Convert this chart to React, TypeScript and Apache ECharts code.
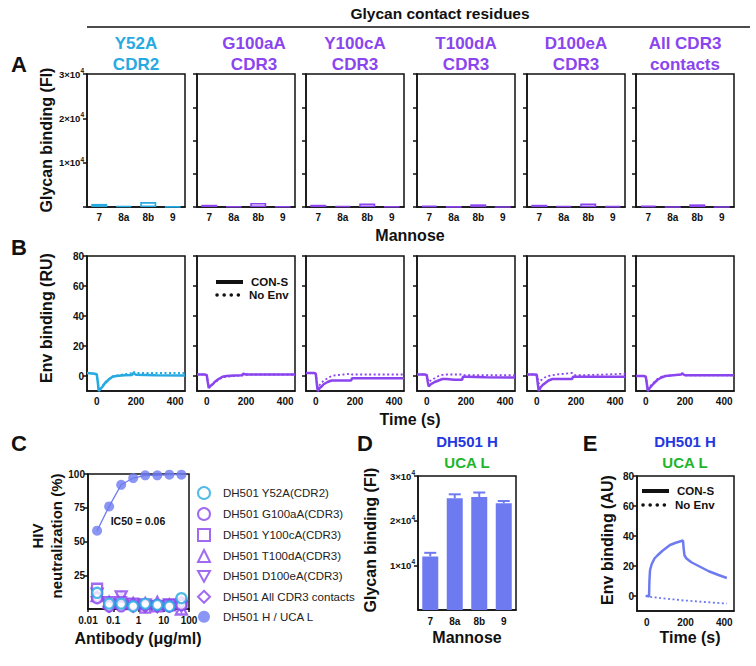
import React, { useEffect, useRef } from 'react';
import * as echarts from 'echarts';

// ---------------- data ----------------
const mannoseCats = ['7', '8a', '8b', '9'];
const mutantTitles = [
  ['Y52A', 'CDR2'],
  ['G100aA', 'CDR3'],
  ['Y100cA', 'CDR3'],
  ['T100dA', 'CDR3'],
  ['D100eA', 'CDR3'],
  ['All CDR3', 'contacts'],
];

// Panel A glycan binding (FI)
const glycanY52A = [700, 200, 1100, 50];
const glycanG100aA = [500, 100, 900, 100];
const glycanY100cA = [500, 200, 800, 100];
const glycanT100dA = [300, 50, 600, 0];
const glycanD100eA = [500, 200, 800, 150];
const glycanAllCDR3 = [300, 0, 600, 0];

// Panel B Env binding (RU)
const bTime = [-50, -10, 0, 5, 10, 20, 30, 40, 60, 80, 100, 140, 180, 185, 200, 300, 450];
const envY52A_cons = [2, 1.5, 1, -4, -10, -8.5, -7, -5, -2.5, -0.5, 0, 0.5, 0.7, 2, 0.8, 0.5, 0.4];
const envY52A_noEnv = [2, 1.5, 1, -4, -9.5, -8, -6.5, -4.5, -2, -0.3, 0.3, 1.2, 2, 3, 2, 2, 2];
const envG100aA_cons = [1, 1, 0.5, -4, -8, -6.5, -5.5, -4, -2, -0.5, 0, 0.3, 0.5, 1.5, 1, 1, 1];
const envG100aA_noEnv = [1, 1, 0.5, -4, -7.5, -6.5, -5.5, -4.5, -2.5, -1, -0.5, 0, 0.3, 1, 1, 1, 1];
const envY100cA_cons = [2, 2, 1.5, -5, -10, -8, -7, -5.5, -4, -3, -3, -3, -3, -1.5, -1.5, -1.5, -1.5];
const envY100cA_noEnv = [2, 2, 1.5, -3, -8, -6, -4.5, -3, -1.5, 0, 0.5, 1, 1.5, 1, 1, 1, 1];
const envT100dA_cons = [1, 1, 0.5, -4, -7, -5.5, -4.8, -4, -3, -2, -2, -2.5, -2.5, -0.5, -0.5, -0.8, -1];
const envT100dA_noEnv = [1, 1, 0.5, -2, -4, -3, -2.2, -1.5, 0, 0.8, 1, 1, 1, 0.5, 0.5, 0.5, 0.5];
const envD100eA_cons = [1, 1, 0.5, -5, -10, -7.5, -6, -5, -3, -2, -2, -2, -2, -0.5, -0.5, -0.5, -0.5];
const envD100eA_noEnv = [1, 1, 1, -2, -5, -3, -2, -1, 0, 0.5, 1, 1.5, 2, 1, 0.5, 0.8, 1.5];
const envAllCDR3_cons = [0, 0, -0.5, -5, -10, -8, -6.5, -5, -2.5, -1, 0, 0.5, 1, 1.5, 0.5, 0.5, 0.5];
const envAllCDR3_noEnv = [0, 0, -0.5, -4, -9, -7, -5.8, -4.5, -2, -0.5, 0, 0.5, 1, 2, 0.5, 0.5, 0.5];

// Panel C neutralization
const antibodyConc = [0.0229, 0.0686, 0.206, 0.617, 1.85, 5.56, 16.7, 50];
const concTickLabels = ['0.01', '0.1', '1', '10', '100'];
const neutY52A = [12, 4, 4, 2, 4, 3, 2, 8];
const neutG100aA = [8, 2, 2, 3, 3, 3, 2, 3];
const neutY100cA = [15, 5, 5, 4, 1, 2, 3, 4];
const neutT100dA = [10, 5, 8, 4, 4, 5, 3, 0];
const neutD100eA = [11, 3, 9, 3, 3, 2, 3, 2];
const neutAllCDR3 = [9, 2, 3, 2, 2, 2, 2, 5];
const neutUCA = [58, 76, 92, 97, 99, 99, 99.5, 99.5];

// Panel D glycan binding of DH501 H / UCA L
const ucaGlycan = [12000, 25000, 25300, 23900];
const ucaGlycanErr = [800, 900, 1000, 500];

// Panel E Env binding (AU)
const eConsTime = [-5, 8, 12, 14, 17, 25, 40, 55, 80, 120, 150, 187, 189, 191, 195, 205, 230, 275, 320, 370, 413];
const eCons = [0, 0, -0.5, 10, 17, 21, 25, 27, 30, 34, 35.5, 37, 37, 31, 27, 25, 22.5, 19.5, 16.5, 14, 12];
const eNoEnvTime = [-5, 10, 50, 100, 150, 190, 200, 250, 300, 350, 413];
const eNoEnv = [0, -0.5, -1, -1.8, -2.4, -3, -3, -3.5, -4, -4.5, -5];

// ---------------- styling ----------------
const FONT = 'Arial, "Liberation Sans", Helvetica, sans-serif';
const INK = '#111111';
const CYAN = '#27a9e1';
const PURPLE = '#8a45ee';
const BLUE = '#6e7bf0';
const TITLE_BLUE = '#2437e0';
const TITLE_GREEN = '#1fb52a';

const rowLefts = [87, 197, 306, 417, 527, 636];
const rowWidth = 98;
const panelColors = [CYAN, PURPLE, PURPLE, PURPLE, PURPLE, PURPLE];

function buildOption() {
  const glycanSets = [glycanY52A, glycanG100aA, glycanY100cA, glycanT100dA, glycanD100eA, glycanAllCDR3];
  const envSets = [
    [envY52A_cons, envY52A_noEnv],
    [envG100aA_cons, envG100aA_noEnv],
    [envY100cA_cons, envY100cA_noEnv],
    [envT100dA_cons, envT100dA_noEnv],
    [envD100eA_cons, envD100eA_noEnv],
    [envAllCDR3_cons, envAllCDR3_noEnv],
  ];
  const axisLineStyle = { color: INK, width: 1.5 };
  const aLine = { show: true, onZero: false, lineStyle: axisLineStyle };
  const frame = { show: true, borderColor: INK, borderWidth: 1.5, backgroundColor: 'transparent' };
  const tickLabel = { fontFamily: FONT, fontWeight: 'bold', fontSize: 10, color: INK };
  const sci = (v: number) => (v === 0 ? '' : `{b|${v / 10000}×10}{s|4}`);
  const sciRich = {
    b: { fontFamily: FONT, fontWeight: 'bold', fontSize: 9.5, color: INK },
    s: { fontFamily: FONT, fontWeight: 'bold', fontSize: 6.5, color: INK, padding: [0, 0, 7, 0] },
  };

  const grid: any[] = [];
  const xAxis: any[] = [];
  const yAxis: any[] = [];
  const series: any[] = [];

  // Row A
  rowLefts.forEach((left, i) => {
    grid.push({ left, top: 74, width: rowWidth, height: 133, ...frame });
    xAxis.push({
      gridIndex: i, type: 'category', data: mannoseCats,
      axisLine: aLine, axisTick: { show: false },
      axisLabel: { ...tickLabel, margin: 5 },
    });
    yAxis.push({
      gridIndex: i, type: 'value', min: 0, max: 30000, interval: i === 0 ? 10000 : 7500,
      axisLine: aLine,
      axisTick: { show: true, length: 4, lineStyle: axisLineStyle },
      axisLabel: { show: i === 0, ...tickLabel, margin: 3, formatter: sci, rich: sciRich },
      splitLine: { show: false },
    });
    series.push({
      type: 'bar', xAxisIndex: i, yAxisIndex: i, data: glycanSets[i], barWidth: 16,
      itemStyle: { color: '#ffffff', borderColor: panelColors[i], borderWidth: 1.6 },
    });
  });

  // Row B
  rowLefts.forEach((left, i) => {
    const gi = 6 + i;
    grid.push({ left, top: 256, width: rowWidth, height: 135, ...frame });
    xAxis.push({
      gridIndex: gi, type: 'value', min: -50, max: 450,
      axisLine: aLine, axisTick: { show: false },
      axisLabel: { ...tickLabel, margin: 5, customValues: [0, 200, 400] },
      splitLine: { show: false },
    });
    yAxis.push({
      gridIndex: gi, type: 'value', min: -10, max: 80,
      axisLine: aLine,
      axisTick: { show: true, length: 4, lineStyle: axisLineStyle, customValues: [0, 20, 40, 60, 80] },
      axisLabel: { show: i === 0, ...tickLabel, margin: 3, customValues: [0, 20, 40, 60, 80] },
      splitLine: { show: false },
    });
    const [cons, noEnv] = envSets[i];
    series.push({
      type: 'line', xAxisIndex: gi, yAxisIndex: gi, symbol: 'none',
      data: bTime.map((t, k) => [t, noEnv[k]]),
      lineStyle: { color: panelColors[i], width: 1.8, type: [2, 2.5] },
    });
    series.push({
      type: 'line', xAxisIndex: gi, yAxisIndex: gi, symbol: 'none',
      data: bTime.map((t, k) => [t, cons[k]]),
      lineStyle: { color: panelColors[i], width: 2.5 },
    });
  });

  // Panel C
  grid.push({ left: 88, top: 474, width: 101, height: 135, ...frame });
  xAxis.push({
    gridIndex: 12, type: 'log', logBase: 10, min: 0.01, max: 100,
    axisLine: aLine, axisTick: { show: true, length: 3, lineStyle: axisLineStyle },
    axisLabel: {
      ...tickLabel, margin: 6,
      formatter: (v: number) => concTickLabels[Math.round(Math.log10(v)) + 2] ?? '',
    },
    splitLine: { show: false },
  });
  yAxis.push({
    gridIndex: 12, type: 'value', min: 0, max: 100,
    axisLine: aLine,
    axisTick: { show: true, length: 4, lineStyle: axisLineStyle, customValues: [25, 50, 75, 100] },
    axisLabel: { ...tickLabel, margin: 3, customValues: [25, 50, 75, 100] },
    splitLine: { show: false },
  });
  const hollow = (name: string, vals: number[], color: string, symbol: string, size: number) => ({
    type: 'scatter', name, xAxisIndex: 12, yAxisIndex: 12, symbol, symbolSize: size,
    data: antibodyConc.map((c, k) => [c, vals[k]]),
    itemStyle: { color: '#ffffff', borderColor: color, borderWidth: 2.3 },
  });
  const invTri = 'path://M0,0L10,0L5,9Z';
  const cNames = [
    'DH501 Y52A(CDR2)',
    'DH501 G100aA(CDR3)',
    'DH501 Y100cA(CDR3)',
    'DH501 T100dA(CDR3)',
    'DH501 D100eA(CDR3)',
    'DH501 All CDR3 contacts',
    'DH501 H / UCA L',
  ];
  series.push(hollow(cNames[3], neutT100dA, PURPLE, 'triangle', 11));
  series.push(hollow(cNames[4], neutD100eA, PURPLE, invTri, 11));
  series.push(hollow(cNames[2], neutY100cA, PURPLE, 'rect', 10));
  series.push(hollow(cNames[5], neutAllCDR3, PURPLE, 'diamond', 11));
  series.push(hollow(cNames[1], neutG100aA, PURPLE, 'circle', 10));
  series.push(hollow(cNames[0], neutY52A, CYAN, 'circle', 10));
  series.push({
    type: 'line', name: 'uca-fit', xAxisIndex: 12, yAxisIndex: 12, symbol: 'none',
    data: antibodyConc.map((c, k) => [c, neutUCA[k]]),
    lineStyle: { color: BLUE, width: 1.3 },
  });
  series.push({
    type: 'scatter', name: cNames[6], xAxisIndex: 12, yAxisIndex: 12, symbol: 'circle', symbolSize: 10,
    data: antibodyConc.map((c, k) => [c, neutUCA[k]]),
    itemStyle: { color: BLUE },
  });

  // Panel D
  grid.push({ left: 418, top: 476, width: 98, height: 134, ...frame });
  xAxis.push({
    gridIndex: 13, type: 'category', data: mannoseCats,
    axisLine: aLine, axisTick: { show: false },
    axisLabel: { ...tickLabel, margin: 6 },
  });
  yAxis.push({
    gridIndex: 13, type: 'value', min: 0, max: 30000,
    axisLine: aLine,
    axisTick: { show: true, length: 4, lineStyle: axisLineStyle, customValues: [10000, 20000, 30000] },
    axisLabel: { ...tickLabel, margin: 3, customValues: [10000, 20000, 30000], formatter: sci, rich: sciRich },
    splitLine: { show: false },
  });
  series.push({
    type: 'custom', xAxisIndex: 13, yAxisIndex: 13,
    data: ucaGlycan.map((v, k) => [k, v, v + ucaGlycanErr[k]]),
    encode: { x: 0, y: [1, 2] },
    renderItem: (_p: any, api: any) => {
      const base = api.coord([api.value(0), api.value(1)]);
      const top = api.coord([api.value(0), api.value(2)]);
      return {
        type: 'group',
        children: [
          { type: 'line', shape: { x1: top[0], y1: base[1], x2: top[0], y2: top[1] }, style: { stroke: BLUE, lineWidth: 2 } },
          { type: 'line', shape: { x1: top[0] - 6, y1: top[1], x2: top[0] + 6, y2: top[1] }, style: { stroke: BLUE, lineWidth: 2 } },
        ],
      };
    },
  });
  series.push({
    type: 'bar', xAxisIndex: 13, yAxisIndex: 13, data: ucaGlycan, barWidth: 16,
    itemStyle: { color: BLUE },
  });

  // Panel E
  grid.push({ left: 637, top: 476, width: 97, height: 135, ...frame });
  xAxis.push({
    gridIndex: 14, type: 'value', min: -50, max: 450,
    axisLine: aLine, axisTick: { show: false },
    axisLabel: { ...tickLabel, margin: 6, customValues: [0, 200, 400] },
    splitLine: { show: false },
  });
  yAxis.push({
    gridIndex: 14, type: 'value', min: -10, max: 80,
    axisLine: aLine,
    axisTick: { show: true, length: 4, lineStyle: axisLineStyle, customValues: [0, 20, 40, 60, 80] },
    axisLabel: { ...tickLabel, margin: 3, customValues: [0, 20, 40, 60, 80] },
    splitLine: { show: false },
  });
  series.push({
    type: 'line', xAxisIndex: 14, yAxisIndex: 14, symbol: 'none',
    data: eNoEnvTime.map((t, k) => [t, eNoEnv[k]]),
    lineStyle: { color: BLUE, width: 1.8, type: [2, 2.5] },
  });
  series.push({
    type: 'line', xAxisIndex: 14, yAxisIndex: 14, symbol: 'none',
    data: eConsTime.map((t, k) => [t, eCons[k]]),
    lineStyle: { color: BLUE, width: 2.5 },
  });

  // ---------- graphic texts ----------
  const T = (text: string, x: number, y: number, size: number, fill = INK, rot = 0, weight = 'bold', align = 'center') => ({
    type: 'text', x, y, rotation: rot, silent: true,
    style: {
      text, fill, fontFamily: FONT, fontSize: size, fontWeight: weight,
      align, verticalAlign: 'middle', textAlign: align, textVerticalAlign: 'middle', lineHeight: size + 4,
    },
  });
  const g: any[] = [];
  g.push(T('Glycan contact residues', 440, 13, 15.5));
  g.push({ type: 'line', shape: { x1: 87, y1: 27, x2: 750, y2: 27 }, style: { stroke: INK, lineWidth: 1.5 }, silent: true });
  mutantTitles.forEach((pair, i) => {
    const cx = rowLefts[i] + rowWidth / 2 + (i === 1 ? 8 : 0);
    g.push(T(pair[0], cx, 43, 17, panelColors[i]));
    g.push(T(pair[1], cx, 64, 17, panelColors[i]));
  });
  g.push(T('A', 19, 64, 22));
  g.push(T('B', 19, 247, 22));
  g.push(T('C', 19, 443, 22));
  g.push(T('D', 365, 443, 22));
  g.push(T('E', 590, 443, 22));
  g.push(T('Glycan binding (FI)', 46, 140, 16, INK, Math.PI / 2));
  g.push(T('Mannose', 410, 235, 16));
  g.push(T('Env binding (RU)', 46, 318, 16, INK, Math.PI / 2));
  g.push(T('Time (s)', 410, 419, 16));
  g.push(T('HIV\nneutralization (%)', 47, 536, 15, INK, Math.PI / 2));
  g.push(T('Antibody (μg/ml)', 138, 638, 16));
  g.push(T('IC50 = 0.06', 138, 521, 10.5));
  g.push(T('Glycan binding (FI)', 370, 540, 16, INK, Math.PI / 2));
  g.push(T('Mannose', 467, 637, 16));
  g.push(T('DH501 H', 467, 441, 15, TITLE_BLUE));
  g.push(T('UCA L', 467, 462, 15, TITLE_GREEN));
  g.push(T('Env binding (AU)', 607, 540, 16, INK, Math.PI / 2));
  g.push(T('Time (s)', 690, 637, 16));
  g.push(T('DH501 H', 685, 441, 15, TITLE_BLUE));
  g.push(T('UCA L', 685, 462, 15, TITLE_GREEN));
  // legends (B2 and E)
  const legendAt = (x: number, y1: number, y2: number) => {
    g.push({ type: 'line', shape: { x1: x, y1, x2: x + 27, y2: y1 }, style: { stroke: INK, lineWidth: 4 }, silent: true });
    g.push({ type: 'line', shape: { x1: x + 1, y1: y2, x2: x + 27, y2: y2 }, style: { stroke: INK, lineWidth: 3.5, lineDash: [0.1, 7], lineCap: 'round' }, silent: true });
    g.push(T('CON-S', x + 35, y1, 11.5, INK, 0, 'bold', 'left'));
    g.push(T('No Env', x + 33, y2, 11.5, INK, 0, 'bold', 'left'));
  };
  legendAt(216, 282, 295);
  legendAt(642, 491, 505);

  return {
    animation: false,
    backgroundColor: '#ffffff',
    grid, xAxis, yAxis, series,
    legend: {
      data: cNames, orient: 'vertical', left: 192, top: 481,
      itemWidth: 12, itemHeight: 12, itemGap: 7,
      textStyle: { fontFamily: FONT, fontSize: 11.5, color: '#222', lineHeight: 12, padding: [0, 0, 0, 8] },
      selectedMode: false,
    },
    graphic: g,
  };
}

export default function App() {
  const ref = useRef<HTMLDivElement>(null);
  useEffect(() => {
    const chart = echarts.init(ref.current!, null, { renderer: 'svg' });
    chart.setOption(buildOption() as any);
    return () => chart.dispose();
  }, []);
  return (
    <div
      ref={ref}
      style={{ position: 'absolute', left: 0, top: 0, width: 756, height: 666, background: '#fff' }}
    />
  );
}
